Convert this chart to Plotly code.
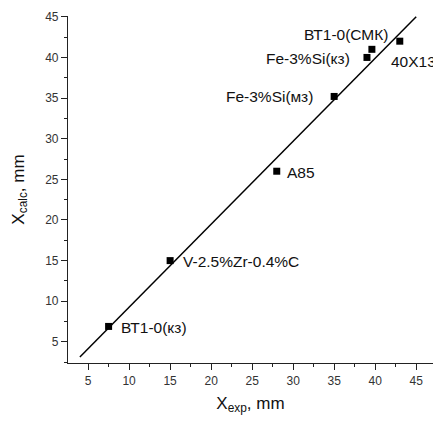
import plotly.graph_objects as go

labels = ["ВТ1-0(кз)", "V-2.5%Zr-0.4%C", "A85", "Fe-3%Si(мз)", "Fe-3%Si(кз)", "ВТ1-0(СМК)", "40Х13"]
x_exp = [7.5, 15.0, 28.0, 35.0, 39.0, 39.6, 43.0]
x_calc = [6.9, 15.0, 26.0, 35.2, 40.0, 41.0, 42.0]
fit_x = [4.0, 45.0]
fit_y = [3.15, 45.0]

# label placement: (xanchor, yanchor, xshift, yshift)
label_pos = [
    ("left", "middle", 10, -1),
    ("left", "middle", 11, -1),
    ("left", "middle", 8, -1),
    ("right", "middle", -19, 0),
    ("right", "middle", -15, -1),
    ("right", "bottom", 18, 4),
    ("left", "top", -11, -10),
]

fig = go.Figure()
fig.add_trace(go.Scatter(x=fit_x, y=fit_y, mode="lines",
                         line=dict(color="black", width=1.5), showlegend=False))
fig.add_trace(go.Scatter(x=x_exp, y=x_calc, mode="markers",
                         marker=dict(symbol="square", size=7, color="black"),
                         showlegend=False))

for lab, xx, yy, (xa, ya, xs, ys) in zip(labels, x_exp, x_calc, label_pos):
    fig.add_annotation(x=xx, y=yy, xref="x", yref="y", text=lab, showarrow=False,
                       xanchor=xa, yanchor=ya, xshift=xs, yshift=ys,
                       font=dict(family="Liberation Sans, Arial", size=15.5, color="#111"))

axis_common = dict(
    showgrid=False, zeroline=False, showline=True, linecolor="#222", linewidth=1.2,
    ticks="outside", ticklen=6, tickwidth=1.2, tickcolor="#222",
    tick0=5, dtick=5,
    tickfont=dict(family="Liberation Sans, Arial", size=12, color="#333"),
    minor=dict(ticks="outside", ticklen=3, tickwidth=1.2, tickcolor="#222", dtick=2.5, tick0=0),
)

fig.update_layout(
    width=433, height=421,
    margin=dict(l=68, r=0, t=16, b=58),
    plot_bgcolor="white", paper_bgcolor="white",
    xaxis=dict(range=[2.55, 47.05], **axis_common,
               title=dict(text="X<sub>exp</sub>, mm", standoff=10,
                          font=dict(family="Liberation Sans, Arial", size=17, color="#111"))),
    yaxis=dict(range=[2.4, 45.1], **axis_common,
               title=dict(text="X<sub>calc</sub>, mm", standoff=16,
                          font=dict(family="Liberation Sans, Arial", size=17, color="#111"))),
)

fig.write_html("out.html")
